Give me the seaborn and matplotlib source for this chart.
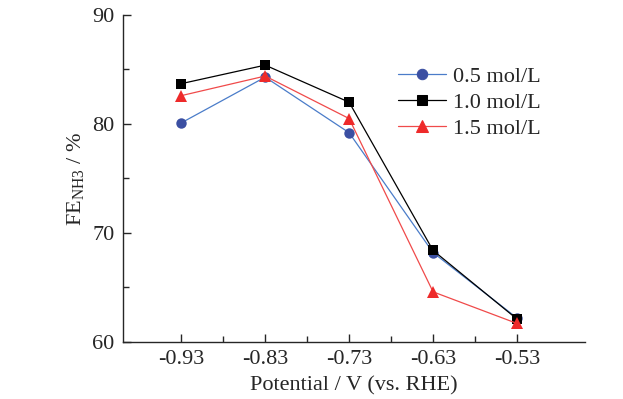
import numpy as np
import pandas as pd
import matplotlib.pyplot as plt
import seaborn as sns
from matplotlib.ticker import MultipleLocator, FixedLocator

potential = [-0.93, -0.83, -0.73, -0.63, -0.53]
tick_labels = ['-0.93', '-0.83', '-0.73', '-0.63', '-0.53']
fe_05 = [80.1, 84.3, 79.2, 68.2, 62.2]
fe_10 = [83.7, 85.4, 82.0, 68.4, 62.1]
fe_15 = [82.6, 84.4, 80.5, 64.6, 61.7]
labels = ['0.5 mol/L', '1.0 mol/L', '1.5 mol/L']

df = pd.DataFrame({
    'Potential': potential * 3,
    'FE': fe_05 + fe_10 + fe_15,
    'c': [labels[0]] * 5 + [labels[1]] * 5 + [labels[2]] * 5,
})

sns.set_style('ticks')
plt.rcParams['font.family'] = ['Liberation Serif', 'DejaVu Serif']
plt.rcParams['mathtext.fontset'] = 'custom'
plt.rcParams['mathtext.rm'] = 'Liberation Serif'

fig = plt.figure(figsize=(6.23, 3.99), dpi=100)
ax = fig.add_axes([0.1974, 0.1429, 0.7416, 0.8195])

line_col = {labels[0]: '#4a7cc9', labels[1]: '#000000', labels[2]: '#f04a4a'}
mark_col = {labels[0]: '#3b4fa2', labels[1]: '#000000', labels[2]: '#ee2a2a'}
markers = {labels[0]: 'o', labels[1]: 's', labels[2]: '^'}
msize = {labels[0]: 7.5, labels[1]: 6.5, labels[2]: 8.5}

sns.lineplot(data=df, x='Potential', y='FE', hue='c', style='c',
             palette=line_col, markers=markers, dashes=False,
             linewidth=0.9, ax=ax)

for ln, lab in zip(ax.lines[:3], labels):
    ln.set_markerfacecolor(mark_col[lab])
    ln.set_markeredgecolor(mark_col[lab])
    ln.set_markeredgewidth(0)
    ln.set_markersize(msize[lab])

ax.set_xlim(-0.9994, -0.449)
ax.set_ylim(60, 90)
ax.xaxis.set_major_locator(FixedLocator(potential))
ax.set_xticklabels(tick_labels)
ax.xaxis.set_minor_locator(FixedLocator([p + 0.05 for p in potential[:-1]]))
ax.yaxis.set_major_locator(MultipleLocator(10))
ax.yaxis.set_minor_locator(MultipleLocator(5))
ax.tick_params(which='both', direction='in', labelsize=16, width=1.0, pad=6)
ax.tick_params(which='major', length=6)
ax.tick_params(which='minor', length=4)
sns.despine(ax=ax)
for s in ['left', 'bottom']:
    ax.spines[s].set_linewidth(1.0)

ax.set_xlabel('Potential / V (vs. RHE)', fontsize=16, labelpad=5)
ax.set_ylabel(r'FE$_{\mathrm{NH3}}$ / %', fontsize=16, labelpad=4)

leg = ax.legend(loc='upper left', bbox_to_anchor=(0.575, 0.87), frameon=False,
                fontsize=16, handlelength=2.2, handletextpad=0.3,
                labelspacing=0.25, borderaxespad=0)
for h, lab in zip(leg.legend_handles, labels):
    h.set_markerfacecolor(mark_col[lab])
    h.set_markeredgecolor(mark_col[lab])
    h.set_markersize(msize[lab])

fig.savefig('out.png', dpi=100)
